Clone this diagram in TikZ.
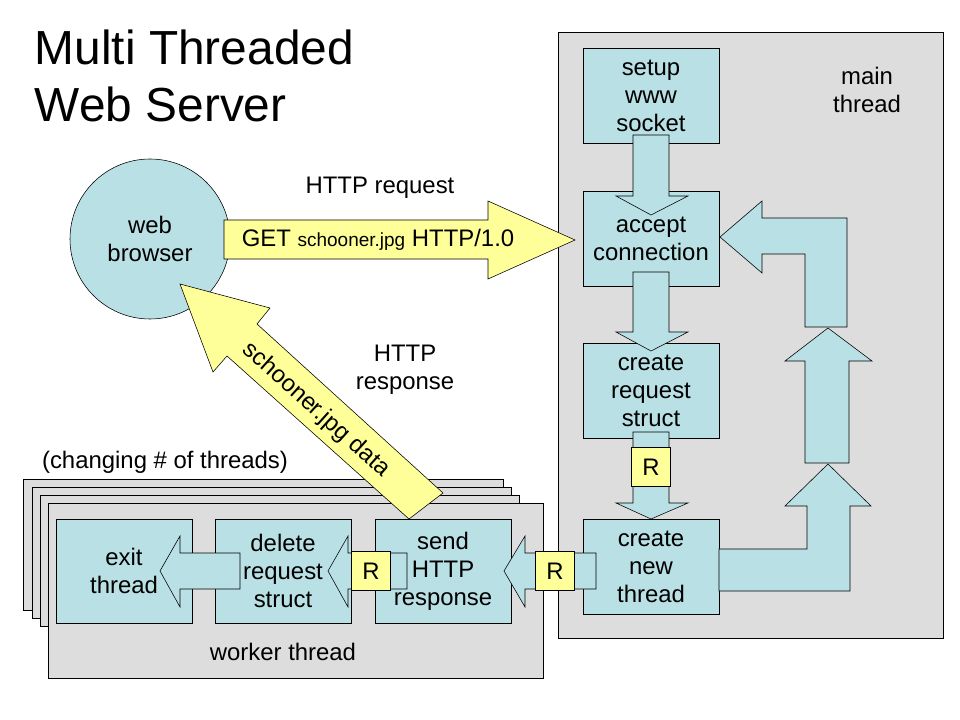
\documentclass[tikz,border=0pt]{standalone}
\usepackage{fontspec}
\setmainfont{Liberation Sans}
\usepackage{tikz}
\usetikzlibrary{positioning}

\definecolor{boxblue}{RGB}{185,224,228}
\definecolor{ryellow}{RGB}{255,255,153}
\definecolor{panel}{RGB}{221,221,221}

\begin{document}
\begin{tikzpicture}[x=0.025cm,y=-0.025cm]
    \tikzstyle{panelbox} = [draw=black,fill=panel]
    \tikzstyle{stepbox}  = [draw=black,fill=boxblue,minimum width=136*0.025cm,
      minimum height=95*0.025cm,align=center,font=\fontsize{17}{20}\selectfont,inner sep=0pt]
    \tikzstyle{rbox}  = [draw=black,fill=ryellow,minimum size=39*0.025cm,
      font=\fontsize{17}{20}\selectfont,inner sep=0pt]
    \tikzstyle{barrow} = [draw=black,fill=boxblue]
    \tikzstyle{yarrow} = [draw=black,fill=ryellow]
    \tikzstyle{txt} = [align=center,font=\fontsize{17}{20}\selectfont,inner sep=1pt]

    \useasboundingbox (0,0) rectangle (960,720);

    % title
    \node[anchor=west,align=left,font=\fontsize{34}{40}\selectfont] (title) at (30,76)
      {Multi Threaded\\Web Server};

    % main thread panel
    \draw[panelbox] (558,32) rectangle (943,638);
    \node[txt] (mainlbl) at (867,90) {main\\thread};

    % worker thread stack
    \draw[panelbox] (23,479) rectangle (503,610);
    \draw[panelbox] (32,487) rectangle (511,618);
    \draw[panelbox] (40,495) rectangle (519,626);
    \draw[panelbox] (48,503) rectangle (543,678);
    \node[txt] (worklbl) at (283,652) {worker thread};
    \node[txt] (chglbl) at (165,462) {(changing \# of threads)};

    % steps
    \node[stepbox] (setup)  at (651,96)  {setup\\www\\socket};
    \node[stepbox] (accept) at (651,239) {accept\\connection};
    \node[stepbox] (create) at (651,391) {create\\request\\struct};
    \node[stepbox] (newthr) at (651,567) {create\\new\\thread};
    \node[stepbox,minimum height=104*0.025cm] (exit)   at (124,571) {exit\\thread};
    \node[stepbox,minimum height=104*0.025cm] (delete) at (283,571) {delete\\request\\struct};
    \node[stepbox,minimum height=104*0.025cm] (send)   at (443,571) {send\\HTTP\\response};

    % browser
    \draw[draw=black,fill=boxblue] (150,239) circle (80);
    \node[txt] (browser) at (150,239) {web\\browser};

    % block arrows in main thread
    \draw[barrow] (633,135)--(669,135)--(669,196)--(688,196)--(651,215)--(616,196)--(633,196)--cycle;
    \draw[barrow] (633,272)--(669,272)--(669,332)--(688,332)--(651,351)--(616,332)--(633,332)--cycle;
    \draw[barrow] (633,432)--(669,432)--(669,503)--(688,503)--(651,519)--(616,503)--(633,503)--cycle;
    \draw[barrow] (719,549)--(807,549)--(807,506)--(785,506)--(828,464)--(871,506)--(850,506)--(850,591)--(719,591)--cycle;
    \draw[barrow] (805,463)--(805,361)--(785,361)--(828,328)--(872,361)--(849,361)--(849,463)--cycle;
    \draw[barrow] (805,327)--(805,254)--(762,254)--(762,273)--(720,237)--(762,201)--(762,218)--(847,218)--(847,327)--cycle;

    % block arrows to workers
    \draw[barrow] (596,553)--(525,553)--(525,536)--(504,571)--(525,607)--(525,589)--(596,589)--cycle;
    \draw[barrow] (407,553)--(348,553)--(348,536)--(328,571)--(348,607)--(348,589)--(407,589)--cycle;
    \draw[barrow] (240,553)--(180,553)--(180,536)--(160,571)--(180,607)--(180,589)--(240,589)--cycle;

    % R markers
    \node[rbox] (r1) at (651,467) {R};
    \node[rbox] (r2) at (555,571) {R};
    \node[rbox] (r3) at (371,571) {R};

    % request / response
    \draw[yarrow] (224,220)--(488,220)--(488,201)--(575,240)--(488,279)--(488,259)--(224,259)--cycle;
    \node[txt] (getlbl) at (378,240) {GET {\fontsize{13.5}{16}\selectfont schooner.jpg} HTTP/1.0};
    \node[txt] (reqlbl) at (380,188) {HTTP request};
    \draw[yarrow] (409,519)--(227,356)--(213,372)--(180,284)--(270,308)--(257,324)--(443,493)--cycle;
    \node[txt,rotate=-42] (datalbl) at (316,410) {schooner.jpg data};
    \node[txt] (resplbl) at (405,370) {HTTP\\response};
\end{tikzpicture}
\end{document}
